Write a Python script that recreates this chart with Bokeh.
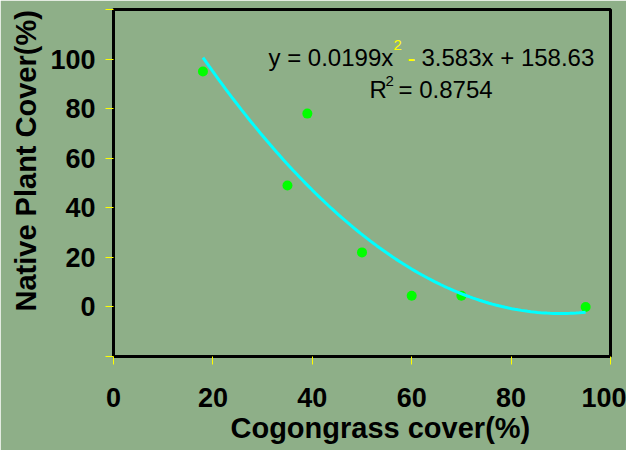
import numpy as np
from bokeh.plotting import figure
from bokeh.models import FixedTicker, Label, Range1d, Title
from bokeh.embed import file_html
from bokeh.resources import INLINE

# ---- data ----
cogongrass = [18, 35, 39, 50, 60, 70, 95]
native = [95, 49, 78, 22, 4.5, 4.5, 0]
trend_coef = [0.0199, -3.583, 158.63]   # y = 0.0199x^2 - 3.583x + 158.63
r_squared = "0.8754"
x_ticks = [0, 20, 40, 60, 80, 100]
y_ticks = [-20, 0, 20, 40, 60, 80, 100, 120]
y_hidden_labels = {-20: "", 120: ""}
x_title = "Cogongrass cover(%)"
y_title = "Native Plant Cover(%)"

BG = "#8EAF88"
FONT = "Liberation Sans"

p = figure(width=626, height=450, output_backend="svg", toolbar_location=None,
           x_range=Range1d(0, 100), y_range=Range1d(-20, 120),
           min_border_left=113, min_border_right=16, min_border_top=9,
           min_border_bottom=94)
p.background_fill_color = BG
p.border_fill_color = BG
p.outline_line_color = "black"
p.outline_line_width = 3
p.xgrid.visible = False
p.ygrid.visible = False

for ax in (p.xaxis[0], p.yaxis[0]):
    ax.axis_line_color = None
    ax.major_tick_line_color = "#FFFF00"
    ax.major_tick_line_width = 1
    ax.major_tick_out = 8
    ax.major_tick_in = 0
    ax.minor_tick_line_color = None
    ax.major_label_text_font = FONT
    ax.major_label_text_font_style = "bold"
    ax.major_label_text_font_size = "27px"
    ax.major_label_text_color = "black"

p.xaxis[0].ticker = FixedTicker(ticks=x_ticks)
p.yaxis[0].ticker = FixedTicker(ticks=y_ticks)
p.yaxis[0].major_label_overrides = y_hidden_labels
p.xaxis[0].major_label_standoff = 23
p.yaxis[0].major_label_standoff = 10

# axis titles as side titles (offset to match the reference placement)
p.add_layout(Title(text=x_title, align="left", offset=117, standoff=0,
                   text_font=FONT, text_font_size="29px", text_font_style="bold",
                   text_color="black"), "below")
p.add_layout(Title(text=y_title, align="left", offset=45, standoff=12,
                   text_font=FONT, text_font_size="29px", text_font_style="bold",
                   text_color="black"), "left")

# points
p.scatter(cogongrass, native, size=10, color="#00FF00", line_color=None)

# trendline from the displayed equation
xs = np.linspace(min(cogongrass), max(cogongrass), 120)
ys = np.polyval(trend_coef, xs)
p.line(xs, ys, line_color="#00FFFF", line_width=3)

def lab(x, y, text, size, color="black"):
    p.add_layout(Label(x=x, y=y, x_units="screen", y_units="screen", text=text,
                       text_font=FONT, text_font_size=size, text_color=color,
                       text_align="left", text_baseline="alphabetic"))

# equation
lab(155, 299, "y = 0.0199x", "24px")
lab(280, 312, "2", "15px", color="#FFFF00")
lab(294, 299, "-", "24px", color="#FFFF00")
lab(308, 299, "3.583x + 158.63", "24px")
lab(256, 267, "R", "24px")
lab(272, 276, "2", "15px")
lab(285, 267, "= " + r_squared, "24px")

open("out.html", "w").write(file_html(p, INLINE))
